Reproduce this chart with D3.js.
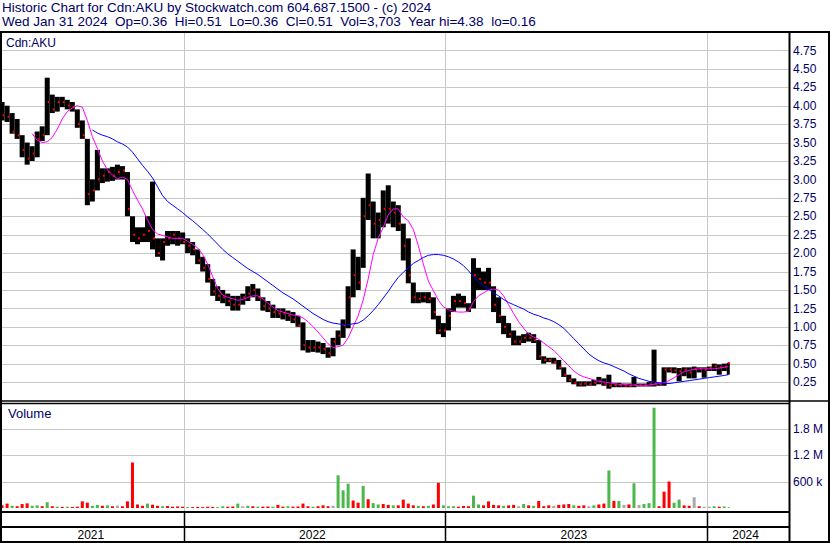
<!DOCTYPE html>
<html>
<head>
<meta charset="utf-8">
<script src="https://cdn.jsdelivr.net/npm/d3@7"></script>
<style>
  body { margin: 0; background: #fff; }
  svg { display: block; }
  text { font-family: Arial, "Liberation Sans", sans-serif; }
</style>
</head>
<body>
<svg id="chart" width="830" height="543"></svg>
<script>
// Weekly bars for Cdn:AKU, Apr 2021 - Jan 2024 (week of each Monday)
const firstMonday = new Date(2021, 3, 19);
const lastDay = new Date(2024, 0, 31);

const high = [
  4.05,4.0,3.9,3.82,3.6,3.5,3.45,3.65,3.72,4.38,
  4.15,4.12,4.12,4.08,4.05,3.95,3.8,3.55,3.0,3.4,
  3.15,3.15,3.17,3.2,3.18,3.1,2.5,2.35,2.35,2.5,
  2.97,2.2,2.2,2.3,2.3,2.3,2.28,2.2,2.15,2.05,
  1.95,1.85,1.65,1.55,1.5,1.45,1.42,1.42,1.45,1.55,
  1.58,1.52,1.4,1.35,1.3,1.25,1.25,1.22,1.2,1.15,
  1.06,0.82,0.82,0.8,0.78,0.72,0.85,0.95,1.1,1.55,
  2.05,1.95,2.75,3.08,2.7,2.55,2.85,2.92,2.7,2.65,
  2.4,2.2,1.6,1.47,1.47,1.47,1.4,1.15,1.05,1.25,
  1.42,1.45,1.42,1.32,1.93,1.8,1.75,1.8,1.55,1.4,
  1.15,1.05,0.95,0.88,0.9,0.92,0.9,0.82,0.6,0.58,
  0.58,0.55,0.45,0.35,0.3,0.26,0.26,0.26,0.28,0.32,
  0.3,0.35,0.24,0.24,0.23,0.23,0.32,0.23,0.23,0.25,
  0.69,0.24,0.45,0.45,0.45,0.44,0.45,0.45,0.46,0.45,
  0.45,0.46,0.5,0.49,0.5,0.51
];
const low = [
  3.8,3.78,3.62,3.55,3.3,3.2,3.25,3.3,3.52,3.6,
  3.9,3.92,3.98,3.95,3.92,3.7,3.55,2.65,2.7,2.85,
  2.95,2.97,2.98,3.0,3.0,2.5,2.15,2.12,2.15,2.15,
  2.05,1.95,1.9,2.1,2.12,2.1,2.12,2.0,1.97,1.85,
  1.75,1.6,1.42,1.35,1.32,1.28,1.22,1.22,1.3,1.35,
  1.4,1.35,1.22,1.2,1.12,1.12,1.1,1.08,1.05,1.0,
  0.68,0.65,0.66,0.65,0.63,0.58,0.6,0.75,0.85,0.98,
  1.4,1.5,1.8,2.45,2.2,2.2,2.35,2.4,2.35,2.3,
  1.9,1.59,1.32,1.32,1.33,1.32,1.1,0.9,0.86,0.95,
  1.2,1.26,1.26,1.2,1.25,1.5,1.5,1.5,1.2,1.05,
  0.9,0.85,0.75,0.75,0.78,0.8,0.78,0.55,0.5,0.52,
  0.5,0.42,0.32,0.25,0.22,0.19,0.19,0.2,0.2,0.22,
  0.2,0.16,0.18,0.18,0.18,0.18,0.18,0.19,0.19,0.19,
  0.19,0.2,0.2,0.38,0.37,0.26,0.33,0.3,0.3,0.38,
  0.31,0.4,0.4,0.35,0.4,0.35
];
const close = [
  3.87,3.85,3.65,3.6,3.4,3.28,3.35,3.55,3.6,4.05,
  3.95,4.05,4.05,4.0,3.98,3.75,3.6,2.8,2.85,3.0,
  3.05,3.1,3.05,3.1,3.12,2.6,2.25,2.2,2.25,2.3,
  2.2,2.0,2.15,2.2,2.25,2.2,2.15,2.1,2.05,1.9,
  1.8,1.65,1.48,1.42,1.4,1.35,1.3,1.3,1.4,1.45,
  1.5,1.4,1.28,1.25,1.2,1.18,1.18,1.15,1.1,1.02,
  0.75,0.72,0.72,0.72,0.7,0.64,0.8,0.88,1.02,1.4,
  1.7,1.6,2.5,2.65,2.4,2.45,2.6,2.6,2.55,2.4,
  2.1,1.7,1.4,1.38,1.4,1.38,1.2,0.95,0.95,1.15,
  1.35,1.35,1.32,1.25,1.7,1.65,1.6,1.6,1.3,1.15,
  1.0,0.9,0.8,0.8,0.85,0.85,0.82,0.6,0.55,0.55,
  0.52,0.45,0.35,0.28,0.24,0.22,0.23,0.22,0.24,0.26,
  0.22,0.2,0.21,0.21,0.2,0.2,0.21,0.21,0.21,0.22,
  0.23,0.22,0.42,0.42,0.41,0.4,0.42,0.38,0.43,0.43,
  0.42,0.44,0.47,0.45,0.46,0.51
];
// Short moving average (magenta)
const maShort = [
  null,null,null,null,null,null,3.62,3.53,3.5,3.51,
  3.57,3.68,3.82,3.92,3.97,4.0,3.98,3.8,3.58,3.42,
  3.25,3.13,3.06,3.01,3.03,3.0,2.85,2.72,2.6,2.45,
  2.32,2.26,2.24,2.22,2.2,2.2,2.2,2.16,2.12,2.07,
  1.98,1.85,1.68,1.52,1.43,1.4,1.38,1.36,1.37,1.4,
  1.42,1.42,1.38,1.32,1.27,1.22,1.2,1.18,1.16,1.15,
  1.12,1.07,1.0,0.93,0.85,0.77,0.72,0.73,0.75,0.85,
  1.0,1.15,1.36,1.65,1.98,2.2,2.35,2.52,2.6,2.6,
  2.49,2.44,2.32,2.1,1.85,1.62,1.49,1.36,1.27,1.23,
  1.21,1.2,1.2,1.21,1.34,1.42,1.46,1.5,1.51,1.5,
  1.42,1.3,1.18,1.07,0.98,0.9,0.86,0.83,0.78,0.73,
  0.68,0.61,0.54,0.47,0.4,0.35,0.32,0.3,0.28,0.26,
  0.25,0.24,0.23,0.22,0.22,0.21,0.21,0.2,0.2,0.21,
  0.22,0.23,0.24,0.27,0.31,0.35,0.39,0.41,0.42,0.43,
  0.43,0.43,0.43,0.44,0.45,0.46
];
// Long moving average (blue)
const maLong = [
  null,null,null,null,null,null,null,null,null,null,
  null,null,null,null,null,null,null,null,3.67,3.63,
  3.6,3.58,3.55,3.51,3.48,3.44,3.37,3.28,3.19,3.11,
  3.02,2.9,2.78,2.7,2.65,2.6,2.55,2.49,2.44,2.38,
  2.32,2.26,2.19,2.12,2.05,1.99,1.94,1.89,1.84,1.79,
  1.75,1.71,1.66,1.61,1.56,1.51,1.46,1.42,1.38,1.33,
  1.28,1.23,1.18,1.14,1.1,1.07,1.05,1.04,1.03,1.03,
  1.04,1.05,1.09,1.15,1.22,1.3,1.39,1.48,1.58,1.67,
  1.74,1.8,1.86,1.9,1.94,1.97,1.98,1.98,1.97,1.95,
  1.92,1.88,1.83,1.76,1.68,1.61,1.56,1.51,1.46,1.42,
  1.37,1.33,1.3,1.27,1.24,1.2,1.17,1.15,1.12,1.1,
  1.07,1.03,0.98,0.91,0.84,0.77,0.7,0.63,0.58,0.54,
  0.51,0.49,0.46,0.43,0.4,0.36,0.33,0.3,0.28,0.26,
  0.25,0.24,0.23,0.23,0.24,0.25,0.26,0.27,0.28,0.29,
  0.3,0.31,0.32,0.33,0.34,0.35
];
// Peak daily volume in each week (thousands of shares)
const volume = [
  60,100,50,40,90,105,50,60,40,130,
  40,30,25,30,25,30,150,120,50,70,
  50,60,40,55,40,150,1030,80,50,100,
  75,50,40,45,30,35,30,20,20,25,
  20,30,25,20,40,30,35,100,40,50,
  40,30,30,35,30,70,30,40,30,35,
  100,40,30,40,60,40,50,740,400,550,
  170,120,500,200,110,80,90,70,60,60,
  190,100,60,50,40,50,80,570,60,40,
  40,30,45,40,280,80,60,150,70,60,
  50,60,70,40,90,60,50,160,40,60,
  50,70,80,90,60,50,60,40,60,80,
  100,850,160,160,70,80,560,70,90,110,
  2270,40,370,600,120,190,60,50,245,40,
  30,30,40,30,35,20
];
// Direction of that day: 1 up, -1 down, 0 unchanged
const volDir = [
  -1,-1,1,-1,-1,-1,1,1,-1,1,
  -1,1,-1,1,-1,-1,-1,-1,1,1,
  -1,1,-1,0,-1,-1,-1,-1,-1,1,
  -1,-1,1,-1,-1,-1,-1,1,-1,-1,
  -1,-1,-1,1,1,-1,-1,1,0,1,
  -1,1,-1,-1,1,-1,-1,1,-1,-1,
  -1,-1,1,-1,-1,-1,0,1,1,1,
  -1,-1,1,-1,1,1,-1,-1,1,-1,
  -1,-1,-1,1,-1,1,-1,-1,1,1,
  1,-1,-1,-1,1,1,-1,-1,-1,-1,
  1,-1,-1,0,1,-1,1,-1,-1,-1,
  0,-1,-1,-1,1,-1,-1,0,1,-1,
  -1,1,-1,1,0,-1,1,0,1,1,
  1,-1,-1,-1,1,1,-1,-1,0,-1,
  0,0,1,-1,1,1
];

const priceTicks = [0.25,0.5,0.75,1,1.25,1.5,1.75,2,2.25,2.5,2.75,3,3.25,3.5,3.75,4,4.25,4.5,4.75];
const volTicks = [600, 1200, 1800];
const volTickLabels = ["600 k", "1.2 M", "1.8 M"];
const years = [2021, 2022, 2023, 2024];
const headerLines = [
  "Historic Chart for Cdn:AKU by Stockwatch.com 604.687.1500 - (c) 2024",
  "Wed Jan 31 2024  Op=0.36  Hi=0.51  Lo=0.36  Cl=0.51  Vol=3,703  Year hi=4.38  lo=0.16"
];

const svg = d3.select("#chart");
const W = 830, H = 543;
const plotL = 2, plotR = 788.5;
const priceTop = 33, priceBot = 400.5;
const volTop = 404, volBot = 511;
const textColor = "#000066";

// one pixel per trading day: five pixels per calendar week
const x = d3.scaleTime()
  .domain([new Date(2022, 0, 1), new Date(2024, 0, 1)])
  .range([183.7, 706.7]);
const y = d3.scaleLinear().domain([0, 5]).range([400.5, 32]);
const yv = d3.scaleLinear().domain([0, 2400]).range([508, 402]);

const mondays = d3.timeMonday.range(firstMonday, d3.timeDay.offset(lastDay, 1));
const dayW = (x(d3.timeDay.offset(firstMonday, 7)) - x(firstMonday)) / 5;
const weeks = mondays.map((m, i) => {
  const days = Math.min(5, d3.timeDay.count(m, lastDay) + 1);
  const x0 = x(m);
  return {
    i, x0, x1: x0 + days * dayW,
    hi: high[i], lo: low[i], cl: close[i],
    s: maShort[i], l: maLong[i],
    v: volume[i], dir: volDir[i]
  };
});

const defs = svg.append("defs");
defs.append("clipPath").attr("id", "clipPrice")
  .append("rect").attr("x", plotL).attr("y", priceTop).attr("width", plotR - plotL).attr("height", priceBot - priceTop);
defs.append("clipPath").attr("id", "clipVol")
  .append("rect").attr("x", plotL).attr("y", volTop).attr("width", plotR - plotL).attr("height", volBot - volTop);

// grid
const grid = svg.append("g").attr("stroke", "#c8c8c8").attr("stroke-width", 1);
grid.selectAll("line.hp").data(priceTicks).join("line")
  .attr("x1", plotL).attr("x2", plotR)
  .attr("y1", d => Math.round(y(d)) + 0.5).attr("y2", d => Math.round(y(d)) + 0.5);
grid.selectAll("line.hv").data(volTicks).join("line").attr("class", "hv")
  .attr("x1", plotL).attr("x2", plotR)
  .attr("y1", d => Math.round(yv(d)) + 0.5).attr("y2", d => Math.round(yv(d)) + 0.5);
const yearStarts = years.slice(1).map(yr => new Date(yr, 0, 1));
grid.selectAll("line.vp").data(yearStarts).join("line").attr("class", "vp")
  .attr("x1", d => Math.round(x(d)) + 0.5).attr("x2", d => Math.round(x(d)) + 0.5)
  .attr("y1", priceTop).attr("y2", priceBot);
grid.selectAll("line.vv").data(yearStarts).join("line").attr("class", "vv")
  .attr("x1", d => Math.round(x(d)) + 0.5).attr("x2", d => Math.round(x(d)) + 0.5)
  .attr("y1", volTop).attr("y2", volBot);

// price bars with red close ticks
const bars = svg.append("g").attr("clip-path", "url(#clipPrice)");
weeks.forEach(w => {
  bars.append("rect")
    .attr("x", w.x0).attr("width", w.x1 - w.x0)
    .attr("y", y(w.hi)).attr("height", Math.max(1, y(w.lo) - y(w.hi)))
    .attr("fill", "#000");
  bars.append("rect")
    .attr("x", w.x1 - 2).attr("width", 2)
    .attr("y", y(w.cl) - 1).attr("height", 2)
    .attr("fill", "#ff0000");
});

// moving averages
const mid = w => (w.x0 + w.x1) / 2;
bars.append("path").datum(weeks)
  .attr("fill", "none").attr("stroke", "#ff00ff").attr("stroke-width", 1)
  .attr("d", d3.line().defined(w => w.s != null).x(mid).y(w => y(w.s)));
bars.append("path").datum(weeks)
  .attr("fill", "none").attr("stroke", "#0000ff").attr("stroke-width", 1)
  .attr("d", d3.line().defined(w => w.l != null).x(mid).y(w => y(w.l)));

// volume
const volColor = d => d > 0 ? "#4cb84c" : (d < 0 ? "#ff0000" : "#a8a8a8");
svg.append("g").attr("clip-path", "url(#clipVol)")
  .selectAll("rect").data(weeks).join("rect")
  .attr("x", w => w.x0 + 1).attr("width", w => Math.max(1, Math.min(3, w.x1 - w.x0 - 1)))
  .attr("y", w => yv(w.v)).attr("height", w => yv(0) - yv(w.v))
  .attr("fill", w => volColor(w.dir));

// frame
const frame = svg.append("g").attr("stroke", "#000");
const hl = (x1, x2, yy, sw) => frame.append("line").attr("x1", x1).attr("x2", x2).attr("y1", yy).attr("y2", yy).attr("stroke-width", sw);
const vl = (xx, y1, y2, sw) => frame.append("line").attr("x1", xx).attr("x2", xx).attr("y1", y1).attr("y2", y2).attr("stroke-width", sw);
hl(0, W, 32, 2);
hl(0, W, 401, 1.5);
hl(0, plotR + 1, 403.5, 1.5);
hl(0, plotR + 1, 512, 2);
hl(0, plotR + 1, 527, 2);
hl(0, W, 542, 2);
vl(1, 31, 543, 2);
vl(789.5, 31, 543, 2);
vl(829, 31, 543, 2);
yearStarts.forEach(d => vl(Math.round(x(d)) + 0.5, 512, 542, 1.5));

// axis labels
svg.append("g").selectAll("text").data(priceTicks).join("text")
  .attr("x", 793).attr("y", d => y(d)).attr("dy", "0.35em")
  .attr("font-size", 12).attr("fill", textColor)
  .text(d => d3.format(".2f")(d));
svg.append("g").selectAll("text").data(volTicks).join("text")
  .attr("x", 793).attr("y", d => yv(d)).attr("dy", "0.35em")
  .attr("font-size", 12).attr("fill", textColor)
  .text((d, i) => volTickLabels[i]);

// year labels, centred in each year's span
svg.append("g").selectAll("text").data(years).join("text")
  .attr("x", yr => {
    const a = Math.max(plotL, x(new Date(yr, 0, 1)));
    const b = Math.min(plotR, x(new Date(yr + 1, 0, 1)));
    return (a + b) / 2 - 2;
  })
  .attr("y", 539).attr("text-anchor", "middle")
  .attr("font-size", 12).attr("fill", "#000")
  .text(yr => yr);

// titles (double gaps kept with no-break spaces)
svg.append("g").selectAll("text").data(headerLines).join("text")
  .attr("x", 2).attr("y", (d, i) => 12 + i * 14)
  .attr("font-size", 13.5).attr("fill", textColor)
  .text(d => d.replace(/  /g, "\u00a0 "));
svg.append("text").attr("x", 6).attr("y", 47).attr("font-size", 12).attr("fill", textColor).text("Cdn:AKU");
svg.append("text").attr("x", 8).attr("y", 418).attr("font-size", 13).attr("fill", textColor).text("Volume");
</script>
</body>
</html>
